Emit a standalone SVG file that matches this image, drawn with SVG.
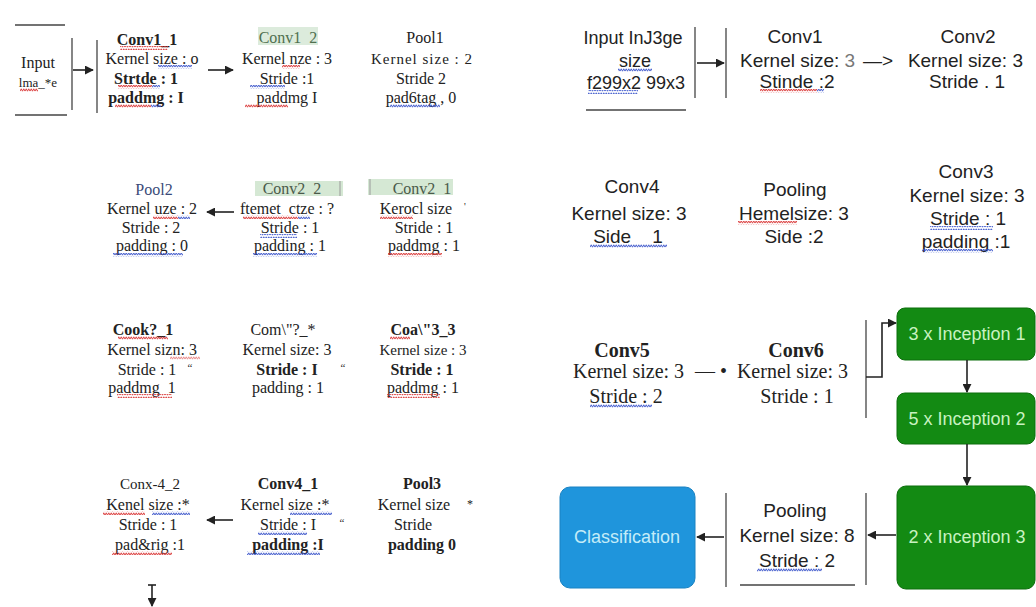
<svg xmlns="http://www.w3.org/2000/svg" width="1036" height="607" viewBox="0 0 1036 607">
<style>
.s{font-family:"Liberation Serif","Times New Roman",serif;font-size:16px;fill:#222;text-anchor:middle}
.b{font-weight:bold}
.a{font-family:"Liberation Sans",Arial,sans-serif;font-size:19px;fill:#222;text-anchor:middle}
.r{font-family:"Liberation Serif","Times New Roman",serif;font-size:20px;fill:#222;text-anchor:middle}
.bx{font-family:"Liberation Sans",Arial,sans-serif;font-size:18px;text-anchor:middle}
.ln{stroke:#444;stroke-width:1.3;fill:none}
.ar{stroke:#222;stroke-width:1.6;fill:none}
.green{fill:#138a13;stroke:#0c6e0c;stroke-width:1}
.wr{fill:url(#wr)}
.wb{fill:url(#wb)}
.pre{white-space:pre}
</style>
<defs>
<marker id="ah" viewBox="0 0 10 10" refX="9" refY="5" markerWidth="9" markerHeight="9" markerUnits="userSpaceOnUse" orient="auto">
<path d="M0,0 L10,5 L0,10 z" fill="#222"/>
</marker>
<pattern id="wr" width="5" height="4" patternUnits="userSpaceOnUse">
<path d="M0,3.2 L1.25,0.8 L2.5,3.2 L3.75,0.8 L5,3.2" stroke="#d83030" stroke-width="0.9" fill="none"/>
</pattern>
<pattern id="wb" width="5" height="4" patternUnits="userSpaceOnUse">
<path d="M0,3.2 L1.25,0.8 L2.5,3.2 L3.75,0.8 L5,3.2" stroke="#3550c8" stroke-width="0.9" fill="none"/>
</pattern>
</defs>
<rect width="1036" height="607" fill="#fff"/>

<!-- LEFT PANEL -->
<g id="input_l">
<line class="ln" x1="15" y1="25" x2="65" y2="25"/>
<line class="ln" x1="15" y1="115" x2="67" y2="115"/>
<line class="ln" x1="72" y1="38" x2="72" y2="110"/>
<text class="s" x="38" y="68">Input</text>
<text class="s" x="38" y="87" style="font-size:13px">lma_*e</text>
<rect class="wr" x="20" y="88" width="18" height="4"/>
</g>
<g id="conv1_1">
<line class="ln" x1="97" y1="40" x2="97" y2="113" stroke="#999"/>
<text class="s b" x="147" y="45">Conv1_1</text>
<text class="s" x="152" y="64">Kernel size : o</text>
<text class="s b" x="146" y="84">Strtde : 1</text>
<text class="s b" x="146" y="103">paddmg : I</text>
<rect class="wr" x="120" y="46" width="48" height="4"/>
<rect class="wb" x="158" y="65" width="34" height="4"/>
<rect class="wr" x="118" y="85" width="34" height="4"/>
<rect class="wb" x="152" y="85" width="8" height="4"/>
<rect class="wr" x="115" y="104" width="36" height="4"/>
<rect class="wb" x="151" y="104" width="10" height="4"/>
</g>
<g id="conv1_2">
<rect x="258" y="27" width="60" height="18" fill="#dcebdc"/>
<text class="s pre" x="288" y="43" style="fill:#4f6f4f">Conv1  2</text>
<text class="s" x="287" y="64">Kernel nze : 3</text>
<text class="s" x="287" y="84">Stride :1</text>
<text class="s" x="287" y="103">paddmg I</text>
<rect class="wr" x="282" y="65" width="18" height="4"/>
<rect class="wb" x="250" y="85" width="35" height="4"/>
<rect class="wr" x="245" y="104" width="43" height="4"/>
</g>
<g id="pool1">
<text class="s" x="425" y="43">Pool1</text>
<text class="s" x="422" y="64" style="letter-spacing:1px;font-size:15px">Kernel size : 2</text>
<text class="s" x="421" y="84">Stride 2</text>
<text class="s" x="421" y="103">pad6tag , 0</text>
<rect class="wb" x="390" y="104" width="50" height="4"/>
</g>

<g id="pool2">
<text class="s" x="154" y="195" style="fill:#3a4a78">Pool2</text>
<text class="s" x="152" y="214">Kernel uze : 2</text>
<text class="s" x="151" y="233">Stride : 2</text>
<text class="s" x="152" y="251">padding : 0</text>
<rect class="wr" x="153" y="215" width="25" height="4"/>
<rect class="wb" x="178" y="215" width="12" height="4"/>
<rect class="wb" x="113" y="253" width="70" height="4"/>
</g>
<g id="conv2_2">
<rect x="255" y="181" width="88" height="15" fill="#d5e8d4"/>
<line x1="340" y1="181" x2="340" y2="196" stroke="#999" stroke-width="1"/>
<text class="s pre" x="292" y="194" style="fill:#4a5a4a">Conv2  2</text>
<text class="s pre" x="287" y="214">ftemet  ctze : ?</text>
<text class="s" x="290" y="233">Stride : 1</text>
<text class="s" x="290" y="251">padding : 1</text>
<rect class="wr" x="243" y="215" width="55" height="4"/>
<rect class="wb" x="298" y="215" width="12" height="4"/>
<rect class="wb" x="260" y="234" width="37" height="4"/>
<rect class="wb" x="253" y="253" width="64" height="4"/>
</g>
<g id="conv2_1">
<rect x="368" y="179" width="85" height="16" fill="#d5e8d4"/>
<line x1="370" y1="179" x2="370" y2="195" stroke="#999" stroke-width="1"/>
<text class="s pre" x="422" y="194" style="fill:#4a5a4a">Conv2  1</text>
<text class="s" x="416" y="214">Kerocl size</text>
<text class="s" x="465" y="210" style="font-size:10px">'</text>
<text class="s" x="424" y="233">Stride : 1</text>
<text class="s" x="424" y="251">paddmg : 1</text>
<rect class="wr" x="380" y="215" width="33" height="4"/>
<rect class="wr" x="388" y="253" width="54" height="4"/>
</g>

<g id="conv3_1">
<text class="s b" x="143" y="335">Cook?_1</text>
<text class="s" x="152" y="355">Kernel sizn: 3</text>
<text class="s" x="147" y="375">Stride : 1</text>
<text class="s" x="190" y="371" style="font-size:11px">“</text>
<text class="s pre" x="142" y="393">paddmg  1</text>
<rect class="wr" x="118" y="336" width="50" height="4"/>
<rect class="wr" x="170" y="356" width="30" height="4" opacity="0.6"/>
<rect class="wr" x="117" y="394" width="55" height="4"/>
</g>
<g id="conv3_2">
<text class="s" x="283" y="335">Com\"?_*</text>
<text class="s" x="287" y="355">Kernel size: 3</text>
<text class="s b" x="287" y="375">Stride : I</text>
<text class="s" x="343" y="371" style="font-size:11px">“</text>
<text class="s" x="288" y="393">padding : 1</text>
</g>
<g id="conv3_3">
<text class="s b" x="423" y="335">Coa\"3_3</text>
<text class="s" x="423" y="355" style="font-size:15px">Kernel size : 3</text>
<text class="s b" x="422" y="375">Stride : 1</text>
<text class="s" x="423" y="393">paddmg : 1</text>
<rect class="wr" x="390" y="336" width="20" height="4"/>
<rect class="wr" x="387" y="394" width="53" height="4"/>
</g>

<g id="conv4_2">
<text class="s" x="150" y="489" style="font-size:15px">Conx-4_2</text>
<text class="s" x="148" y="510">Kenel size :*</text>
<text class="s" x="148" y="530">Stride : 1</text>
<text class="s" x="150" y="550">pad&amp;rig :1</text>
<rect class="wr" x="103" y="511" width="42" height="4"/>
<rect class="wb" x="152" y="511" width="38" height="4"/>
<rect class="wr" x="112" y="551" width="60" height="4"/>
</g>
<g id="conv4_1">
<text class="s b" x="288" y="489">Conv4_1</text>
<text class="s" x="285" y="510">Kernel size :*</text>
<text class="s" x="288" y="530">Stride : I</text>
<text class="s" x="342" y="526" style="font-size:11px">“</text>
<text class="s b" x="288" y="550">padding :I</text>
<rect class="wb" x="290" y="511" width="42" height="4"/>
<rect class="wb" x="258" y="531" width="49" height="4"/>
<rect class="wb" x="247" y="551" width="73" height="4"/>
</g>
<g id="pool3">
<text class="s b" x="422" y="489">Pool3</text>
<text class="s" x="414" y="510">Kernel size</text>
<text class="s" x="470" y="508" style="font-size:12px">*</text>
<text class="s" x="413" y="530">Stride</text>
<text class="s b" x="422" y="550" style="font-weight:600">padding 0</text>
</g>

<!-- RIGHT PANEL -->
<g id="input_r">
<text class="a" x="633" y="44" style="font-size:18px">Input InJ3ge</text>
<text class="a" x="635" y="67" style="font-size:18px">size</text>
<text class="a" x="636" y="89" style="font-size:18px">f299x2 99x3</text>
<rect class="wb" x="618" y="68" width="34" height="4"/>
<rect class="wb" x="588" y="90" width="50" height="4"/>
<line class="ln" x1="586" y1="110" x2="686" y2="110"/>
<line class="ln" x1="695" y1="27" x2="695" y2="98"/>
</g>
<g id="conv1_r">
<line class="ln" x1="726" y1="28" x2="726" y2="98" stroke="#888"/>
<text class="a" x="795" y="43">Conv1</text>
<text class="a" x="740" y="67" style="text-anchor:start">Kernel size: <tspan fill="#777">3</tspan></text>
<text class="a" x="797" y="88">Stinde :2</text>
<rect class="wr" x="760" y="89" width="57" height="4"/>
<rect class="wb" x="817" y="89" width="7" height="4"/>
</g>
<g id="conv2_r">
<text class="a" x="968" y="43">Conv2</text>
<text class="a" x="1023" y="67" style="text-anchor:end">Kernel size: 3</text>
<text class="a" x="967" y="88">Stride . 1</text>
</g>
<g id="conv4_r">
<text class="a" x="632" y="193">Conv4</text>
<text class="a" x="629" y="220">Kernel size: 3</text>
<text class="a pre" x="628" y="243">Side    1</text>
<rect class="wb" x="590" y="244" width="77" height="4"/>
</g>
<g id="pooling_r">
<text class="a" x="795" y="196">Pooling</text>
<text class="a" x="794" y="220">Hemelsize: 3</text>
<text class="a" x="794" y="243">Side :2</text>
<rect class="wr" x="738" y="221" width="59" height="4"/>
</g>
<g id="conv3_r">
<text class="a" x="966" y="178">Conv3</text>
<text class="a" x="967" y="202">Kernel size: 3</text>
<text class="a" x="968" y="225">Stride : 1</text>
<text class="a" x="966" y="248">padding :1</text>
<rect class="wb" x="930" y="226" width="63" height="4"/>
<rect class="wb" x="922" y="249" width="71" height="4"/>
</g>
<g id="conv5_r">
<text class="r b" x="622" y="357">Conv5</text>
<text class="r" x="573" y="378" style="text-anchor:start">Kernel size: 3</text>
<text class="r" x="626" y="403">Stride : 2</text>
<rect class="wb" x="590" y="404" width="62" height="4"/>
</g>
<g id="conv6_r">
<text class="r b" x="796" y="357">Conv6</text>
<text class="r" x="848" y="378" style="text-anchor:end">Kernel size: 3</text>
<text class="r" x="797" y="403">Stride : 1</text>
</g>
<g id="incep1">
<rect class="green" x="897" y="308" width="138" height="52" rx="8"/>
<text class="bx" x="967" y="340" fill="#c8f2c0">3 x Inception 1</text>
</g>
<g id="incep2">
<rect class="green" x="897" y="393" width="138" height="51" rx="8"/>
<text class="bx" x="967" y="425" fill="#c8f2c0">5 x Inception 2</text>
</g>
<g id="incep3">
<rect class="green" x="897" y="486" width="138" height="103" rx="9"/>
<text class="bx" x="967" y="543" fill="#c8f2c0">2 x Inception 3</text>
</g>
<g id="pooling2_r">
<line class="ln" x1="866" y1="493" x2="866" y2="585" stroke="#888"/>
<line class="ln" x1="726" y1="493" x2="726" y2="587" stroke="#888"/>
<line class="ln" x1="740" y1="585" x2="855" y2="585"/>
<text class="a" x="795" y="517">Pooling</text>
<text class="a" x="797" y="542">Kernel size: 8</text>
<text class="a" x="797" y="567">Stride : 2</text>
<rect class="wb" x="757" y="568" width="65" height="4"/>
</g>
<g id="classification">
<rect x="560" y="487" width="135" height="101" rx="10" fill="#1f95dc" stroke="#1a82c2"/>
<text class="bx" x="627" y="543" fill="#c4ecf8">Classification</text>
</g>

<g id="connectors">
<line class="ar" x1="73" y1="70" x2="93" y2="70" marker-end="url(#ah)"/>
<line class="ar" x1="208" y1="70" x2="233" y2="70" marker-end="url(#ah)"/>
<line class="ar" x1="234" y1="212" x2="207" y2="212" marker-end="url(#ah)"/>
<line class="ar" x1="233" y1="520" x2="207" y2="520" marker-end="url(#ah)"/>
<line class="ar" x1="148" y1="585" x2="156" y2="585"/>
<line class="ar" x1="152" y1="585" x2="152" y2="606" marker-end="url(#ah)"/>
<line class="ar" x1="697" y1="63" x2="724" y2="63" marker-end="url(#ah)"/>
<text class="a" x="878" y="67">—&gt;</text>
<text class="r" x="711" y="378">— •</text>
<line class="ln" x1="866" y1="320" x2="866" y2="418" stroke="#888"/>
<polyline class="ar" points="866,377 882,377 882,323 896,323" marker-end="url(#ah)"/>
<line class="ar" x1="967" y1="360" x2="967" y2="392" marker-end="url(#ah)"/>
<line class="ar" x1="967" y1="444" x2="967" y2="485" marker-end="url(#ah)"/>
<line class="ar" x1="896" y1="535" x2="868" y2="535" marker-end="url(#ah)"/>
<line class="ar" x1="724" y1="537" x2="697" y2="537" marker-end="url(#ah)"/>
</g>
</svg>
